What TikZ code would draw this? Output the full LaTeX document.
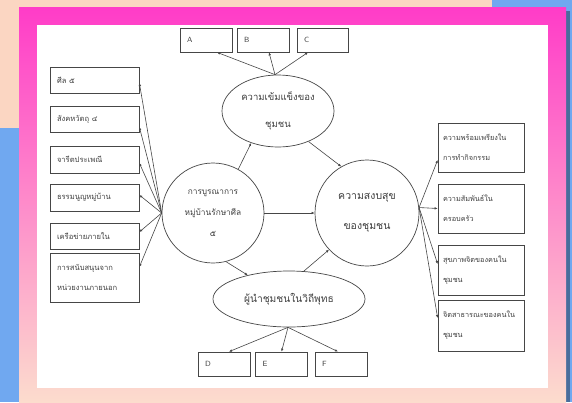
\documentclass[tikz,border=0pt]{standalone}
\usepackage{fontspec}
\setmainfont{Carlito}
\newfontfamily\thaiF[Script=Thai]{Loma}
\usetikzlibrary{shapes.geometric,arrows.meta}
\definecolor{bgblue}{RGB}{112,168,240}
\definecolor{peach}{RGB}{251,214,194}
\definecolor{ftop}{RGB}{255,60,200}
\definecolor{fmid}{RGB}{255,150,192}
\definecolor{fbot}{RGB}{252,220,205}
\definecolor{lc}{RGB}{70,70,70}
\begin{document}
\begin{tikzpicture}[x=1pt,y=-1pt,
  arr/.style={draw=lc, line width=0.6pt, -{Latex[length=3pt,width=2.6pt]}},
  ell/.style={ellipse, draw=lc, line width=0.7pt, fill=white, inner sep=0pt, align=center, text=black!75, font=\thaiF\fontsize{9.5}{27}\selectfont},
  lbl/.style={rectangle, draw=lc, line width=0.7pt, fill=white, inner xsep=7pt, inner ysep=0pt, align=left, text width=38pt, minimum height=24pt, text=black!75, font=\sffamily\fontsize{7.5}{9}\selectfont},
  tbox/.style={rectangle, draw=lc, line width=0.7pt, fill=white, inner ysep=0pt, align=left, text=black!75},
  lbox/.style={tbox, inner xsep=7pt, text width=75pt, font=\thaiF\fontsize{7.6}{20}\selectfont},
  rbox/.style={tbox, inner xsep=5pt, text width=76pt, font=\thaiF\fontsize{7.3}{20}\selectfont},
]
\useasboundingbox (0,0) rectangle (572,402);
% background
\fill[bgblue] (0,0) rectangle (572,402);
\fill[peach] (0,0) rectangle (492,128);
\fill[black, opacity=0.35] (23,11) rectangle (570,402);
\shade[top color=ftop, middle color=fmid, bottom color=fbot] (19,7) rectangle (566,402);
\fill[white] (37,25) rectangle (548,388);

% ellipses
\node[ell, minimum width=102pt, minimum height=100pt, font=\thaiF\fontsize{8.3}{21}\selectfont] (L) at (213,213) {การบูรณาการ\\หมู่บ้านรักษาศีล\\๕};
\node[ell, minimum width=112pt, minimum height=72pt] (T) at (278,111) {ความเข้มแข็งของ\\ชุมชน};
\node[ell, minimum width=104pt, minimum height=106pt, font=\thaiF\fontsize{10.5}{30}\selectfont] (R) at (367,213) {ความสงบสุข\\ของชุมชน};
\node[ell, minimum width=152pt, minimum height=56pt, font=\thaiF\fontsize{10.2}{12}\selectfont] (Bo) at (289,299) {ผู้นำชุมชนในวิถีพุทธ};

% top and bottom letter boxes
\node[lbl] (A) at (206,40) {A};
\node[lbl] (B) at (263,40) {B};
\node[lbl, text width=37pt] (C) at (322.5,40) {C};
\node[lbl] (D) at (224,364) {D};
\node[lbl] (E) at (281.5,364) {E};
\node[lbl] (F) at (341,364) {F};

% left boxes
\node[lbox, minimum height=26pt] (l1) at (94.5,80) {ศีล ๕};
\node[lbox, minimum height=26pt] (l2) at (94.5,119) {สังคหวัตถุ ๔};
\node[lbox, minimum height=27pt] (l3) at (94.5,159.5) {จารีตประเพณี};
\node[lbox, minimum height=27pt] (l4) at (94.5,197.5) {ธรรมนูญหมู่บ้าน};
\node[lbox, minimum height=26pt] (l5) at (94.5,236) {เครือข่ายภายใน};
\node[lbox, minimum height=49pt] (l6) at (94.5,277.5) {การสนับสนุนจาก\\หน่วยงานภายนอก};

% right boxes
\node[rbox, minimum height=49pt] (r1) at (481,147.5) {ความพร้อมเพรียงใน\\การทำกิจกรรม};
\node[rbox, minimum height=49pt] (r2) at (481,208.5) {ความสัมพันธ์ใน\\ครอบครัว};
\node[rbox, minimum height=50pt] (r3) at (481,270) {สุขภาพจิตของคนใน\\ชุมชน};
\node[rbox, minimum height=51pt] (r4) at (481,325.5) {จิตสาธารณะของคนใน\\ชุมชน};

% fan origins
\coordinate (lf) at (L.west);
\coordinate (rf) at (R.6);
\coordinate (tf) at ([xshift=-3pt]T.north);
\coordinate (bf) at ([xshift=-1pt]Bo.south);

% left fan
\draw[arr] (lf) -- ([yshift=-3pt]l1.east);
\draw[arr] (lf) -- ([yshift=-8pt]l2.east);
\draw[arr] (lf) -- ([yshift=-3.5pt]l3.east);
\draw[arr] (lf) -- ([yshift=2.5pt]l4.east);
\draw[arr] (lf) -- ([yshift=4pt]l5.east);
\draw[arr] (lf) -- ([yshift=10.5pt]l6.east);

% right fan
\draw[arr] (rf) -- ([yshift=-12.5pt]r1.west);
\draw[arr] (rf) -- (r2.west);
\draw[arr] (rf) -- ([yshift=6pt]r3.west);
\draw[arr] (rf) -- ([yshift=7.5pt]r4.west);

% top fan
\draw[arr] (tf) -- ([xshift=11pt]A.south);
\draw[arr] (tf) -- ([xshift=6pt]B.south);
\draw[arr] (tf) -- ([xshift=-14.5pt]C.south);

% bottom fan
\draw[arr] (bf) -- ([xshift=5pt]D.north);
\draw[arr] (bf) -- (E.north);
\draw[arr] (bf) -- ([xshift=-3pt]F.north);

% inner arrows
\draw[arr] (L.60) -- (T.-130);
\draw[arr] (T.-45) -- (R.119);
\draw[arr] (L.east) -- (R.west);
\draw[arr] (L.-75) -- (Bo.150);
\draw[arr] (Bo.62) -- (R.-136);
\end{tikzpicture}
\end{document}
